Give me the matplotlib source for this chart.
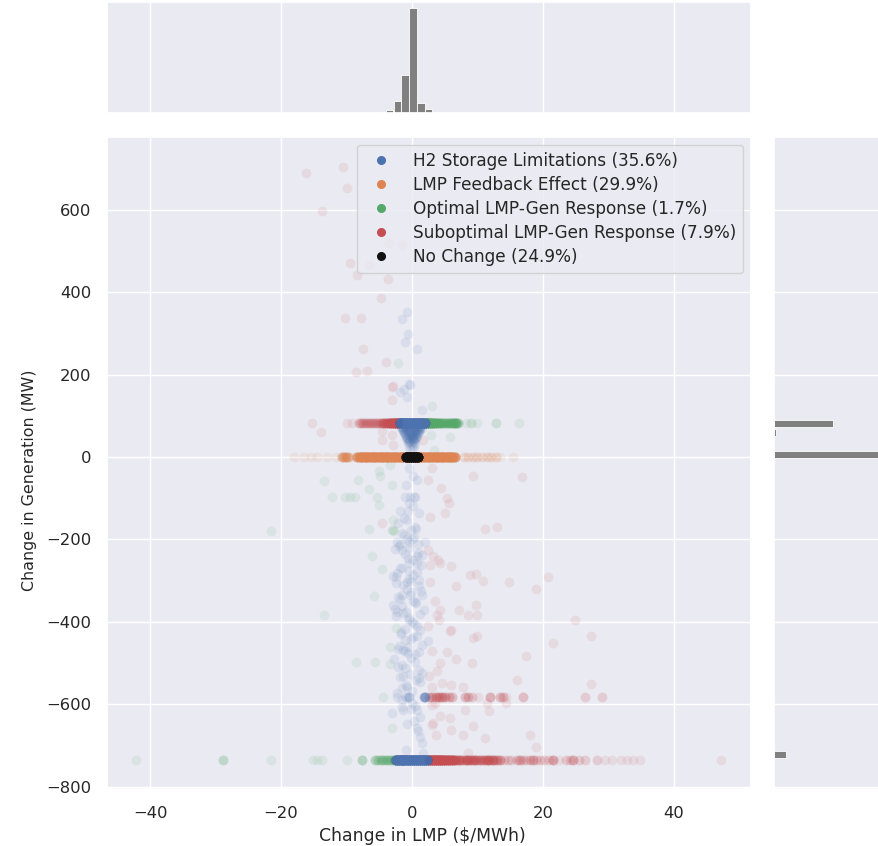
import numpy as np
import matplotlib
matplotlib.use("Agg")
import matplotlib.pyplot as plt
import seaborn as sns

sns.set_theme(style="darkgrid")
plt.rcParams["font.family"] = ["DejaVu Sans"]

labels = ["H2 Storage Limitations (35.6%)", "LMP Feedback Effect (29.9%)",
          "Optimal LMP-Gen Response (1.7%)", "Suboptimal LMP-Gen Response (7.9%)",
          "No Change (24.9%)"]

# scattered points
blue_x = [-0.8,-1.6,-0.6,-1.1,0.8,-0.3,-1.2,-0.4,-1.8,-0.8,1.5,
          -0.5,0.2,0.7,-0.9,-1.0,-0.3,0.3,0.5,-0.5,0.1,-0.6,1.0,-0.8,0.6,-0.2,
          -2.3,-0.5,2.0,-1.6,-0.5,1.5,-0.5,0.7,-2.3,0.7,-0.8,-2.5,-1.6,-0.3,1.5,-2.9,-2.3,-1.3,1.3,-0.05,1.2,2.5,1.0,-1.6,-2.1,1.5,-1.6,-1.3,0.7,0.7,1.2,1.5,-0.9,1.7,
          -1.2,0.3,-2.0,0.9,-0.6,1.4,-1.5,0.2,-2.4,-0.1,1.1,-0.7,-1.9,0.5,-2.6,1.8,-0.4,0.8,-1.7,0.1,-1.0,1.6,-2.2,0.4,-0.2,1.0,-1.4,0.6,-0.9,0.0,-3.0,1.3,
          0.3,-0.8,0.9,-1.5,0.5,-0.2,1.1,-0.6,-1.1,0.2,1.4,-0.4,0.7,-1.8,0.0,
          -1.8,-1.2,-2.2,0.4,-1.5,-0.7,0.9,-2.6,-1.0,0.1,-1.9,-0.4,-2.9,1.1,-1.3,-0.2,-2.1,0.6,-1.6,-0.9,-2.4,-0.5,0.3,-1.1,-1.7,0.8,-0.1,-2.0,-1.4,-0.6,-2.7,0.5,-1.0,-0.3,-1.9,1.3,-0.8,-2.3,0.0,-1.5,
          -1.7,-0.9,0.2,1.2,-1.4,-0.6,0.8,1.6,-1.5,-0.8,0.4,1.3,-1.3,-0.5,0.6,1.1,-1.2,-0.4,0.3,1.0,-1.1,-0.3,0.5,0.9,-1.0,-0.2,0.4,0.8,-0.9,-0.2,0.3,0.7,-0.8,-0.1,0.2,0.6,-0.7,0.0,0.5,-0.6,0.1,0.4,-0.5,0.2,-0.4,0.3,
          -1.6,-1.1,-0.6,-0.1,0.4,0.9,1.4,-1.5,-1.0,-0.5,0.0,0.5,1.0,1.3,-1.4,-0.9,-0.4,0.1,0.6,1.1,-1.3,-0.8,-0.3,0.2,0.7,1.0,-1.2,-0.7,-0.2,0.3,0.8,-1.0,-0.5,0.0,0.5,-0.9,-0.4,0.1,0.6,-0.8,-0.3,0.2,-0.6,-0.1,0.4,-0.5,0.0,0.3,-0.3,0.1]
blue_y = [351,335,298,279,262,175,165,177,158,146,115,
          -27,-47,-56,-68,-96,-97,-97,-97,-112,-118,-130,-136,-153,-175,-178,
          -205,-205,-205,-225,-221,-237,-256,-256,-282,-278,-302,-306,-334,-334,-334,-359,-375,-379,-380,-401,-419,-447,-472,-504,-508,-523,-561,-613,-613,-657,-678,-694,-710,-718,
          -190,-195,-215,-232,-245,-262,-270,-285,-292,-300,-312,-320,-345,-352,-368,-372,-390,-410,-428,-436,-444,-455,-465,-478,-488,-516,-530,-540,-552,-568,-620,-630,
          -640,-648,-665,-590,-603,-610,-535,-460,-470,-350,-325,-295,-240,-212,-200,
          -130,-148,-160,-170,-185,-198,-210,-222,-235,-250,-268,-276,-288,-298,-310,-328,-340,-355,-362,-376,-385,-395,-405,-418,-425,-433,-442,-458,-468,-476,-490,-497,-512,-525,-534,-545,-558,-572,-596,-606,
          72,72,72,72,70,70,70,70,67,67,67,67,64,64,64,64,61,61,61,61,58,58,58,58,55,55,55,55,52,52,52,52,49,49,49,49,46,46,46,43,43,43,40,40,37,37,
          76,76,76,76,76,76,76,74,74,74,74,74,74,74,69,69,69,69,69,69,65,65,65,65,65,65,60,60,60,60,60,54,54,54,54,47,47,47,47,41,41,41,34,34,34,27,27,27,20,20]

green_x = [-21.5,-13.5,-8.5,-6.1,-5.8,-5.6,-4.6,-4.5,-3.4,-3.3,-3.1,-2.5,3.1,2.9,5.8,3.3,-3.3,-5,-4.9,-8.2,-13.4,-6.5,-3.1,-12.2,-10.2,-9.5,-8.7,-5.4,-5,-2.9,-6.6,-2.9,-3.1,-2.2,-2.7]
green_y = [-180,-383,-498,-241,-337,-498,-272,-582,-502,-460,-657,-415,123,53,49,17,-19,-35,-47,-56,-58,-77,-68,-96,-97,-97,-97,-96,-116,-153,-175,-178,-176,228,-180]

red_x = [-16.2,-10.5,-9.9,-13.7,-9.5,-8.4,-3.7,-4.7,-10.2,-7.8,-7.5,-4,-8.5,-6.9,-2.9,-3.5,-1.5,-6.5,
         -3,-3.1,-13.9,-4.6,-4.6,-3.1,-2.9,1.7,3,9.3,16.8,2.5,4.5,5.3,5.6,5,2.8,-4.6,11.2,13,
         4,4.3,6,2.75,6.7,8.9,9.8,10.9,14.8,19,9.8,7.2,4.3,3.8,8.6,10,5.8,6,9.3,10,21.5,5.3,6.7,4.3,9.1,17.4,16,27.3,4.6,3,6,7.8,20.8,24.9,27.3,
         3,3.5,11.5,14.4,8.1,11.8,5.8,4.3,3,3.2,6,7.8,3.6,9.3,11.2,18,19,8.6,
         2.5,3.2,2.8,3.5,4.1,2.4,3.0,3.8,2.6]
red_y = [688,703,652,596,470,441,431,385,337,337,262,230,206,209,172,520,515,465,
         170,138,60,62,41,53,29,41,-27,-47,-48,-56,-76,-100,-112,-136,-145,-161,-174,-170,
         -250,-258,-264,-302,-312,-287,-284,-300,-304,-321,-359,-371,-371,-383,-383,-383,-423,-419,-439,-434,-451,-472,-489,-500,-500,-482,-540,-550,-548,-557,-554,-557,-290,-395,-434,
         -601,-597,-597,-597,-613,-617,-633,-629,-649,-645,-662,-675,-674,-653,-682,-674,-704,-718,
         -225,-240,-262,-350,-395,-410,-470,-520,-530]

# horizontal bands: value, number of coincident points
band_y = [82, 0, -735, -582]

blue_band_x_82 = [-1.9,-1.6,-1.3,-1.0,-0.7,-0.4,-0.1,0.2,0.5,0.8,1.1,1.4,1.7,2.0]
blue_band_n_82 = [25,25,25,25,25,25,25,25,25,25,25,25,25,25]
red_band_x_82 = [-15.3,-10,-9.2,-8.1,-7.8,-7.5,-7.2,-6.9,-6.6,-6.3,-6.0,-5.7,-5.4,-5.1,-4.8,-4.5,-4.2,-3.9,-3.6,-3.3,-3.0,-2.7,-2.4,-2.1]
red_band_n_82 = [1,1,1,3,3,3,3,3,3,3,3,3,3,3,4,5,5,6,9,12,14,18,20,25]
green_band_x_82 = [2.3,2.6,2.9,3.2,3.5,3.8,4.1,4.4,4.7,5.0,5.3,5.6,5.9,6.2,6.5,6.8,7.1,8.2,9.0,9.9,12.9,16.3]
green_band_n_82 = [22,20,16,14,10,9,8,7,6,5,6,6,7,7,7,7,5,1,2,1,2,1]
orange_band_x = [-18,-16.5,-15.5,-14.5,-13,-11.6,-10.7,-10.4,-10.1,-9.8,-9.2,
                 -8.4,-8,-7.6,-7.2,-6.8,-6.4,-6,-5.6,-5.2,-4.8,-4.4,-4,-3.6,-3.2,-2.8,-2.4,-2,-1.6,-1.2,-0.8,-0.4,0,0.4,0.8,1.2,1.6,2,2.4,2.8,3.2,3.6,4,4.4,4.8,5.2,5.6,6,6.3,6.6,
                 7.9,8.6,9.3,10,10.7,11.4,12.1,12.8,13.4,15.5]
orange_band_n = [1,1,1,1,1,1,6,6,6,6,1,
                 12,16,20,20,20,20,20,20,20,20,20,20,20,20,20,20,20,20,20,20,20,20,20,20,20,20,20,20,20,20,20,20,20,20,20,20,16,12,12,
                 2,2,2,2,2,2,2,2,1,1]
black_x = [-0.9,-0.6,-0.3,0.0,0.3,0.6,0.9]
black_n = [30,30,30,30,30,30,30]

blue_band_x_735 = [-2.5,-2.2,-1.9,-1.6,-1.3,-1.0,-0.7,-0.4,-0.1,0.2,0.5,0.8,1.1,1.4,1.7,2.0,2.3]
blue_band_n_735 = [25,25,25,25,25,25,25,25,25,25,25,25,25,25,25,25,25]
green_band_x_735 = [-42.1,-28.8,-21.6,-15.2,-14.5,-13.8,-10,-7.7,-5.6,-5.2,-4.8,-4.4,-4,-3.6,-3.2,-2.8]
green_band_n_735 = [1,3,1,1,1,1,1,4,4,4,4,4,4,4,5,8]
red_band_x_735 = [2.6,2.9,3.2,3.5,3.8,4.1,4.4,4.7,5.0,5.3,5.6,5.9,6.2,6.6,7,7.4,7.8,8.2,8.6,9,9.4,9.8,10.2,10.6,11,11.4,11.8,12.2,12.6,13,13.4,14,14.6,15.2,16,16.5,17,17.4,18,18.5,19,19.5,20.2,21,21.5,22.5,23.5,24.2,24.6,25.5,26.4,28.2,29.5,30.5,32,32.8,33.8,34.9,47.2]
red_band_n_735 = [20,20,20,20,20,20,20,16,16,14,14,12,12,10,7,7,6,7,8,8,7,6,5,5,7,7,7,6,6,5,5,2,2,2,3,4,2,2,3,4,2,2,2,2,5,1,2,2,4,2,2,2,1,1,1,1,1,1,1]
blue_band_x_580 = [-2.3,-0.9,-0.5,1.8,2.0]
blue_band_n_580 = [1,2,3,4,5]
red_band_x_580 = [2.6,3.1,3.6,4.1,4.6,5.1,5.6,6.1,8.1,8.6,9.1,10.1,11.9,13.4,13.9,14.4,16.9,26.5,29]
red_band_n_580 = [3,4,5,5,5,4,3,3,3,3,2,1,4,3,3,1,3,2,2]

# marginal histograms
lmp_bins = [-5.8,-4.6,-3.4,-2.2,-1.07,0.15,1.37,2.5,3.7,4.9,6.0]
lmp_heights = [0.2,0.7,3.3,12,38,105,9.5,3.5,0.8,0.4,0.2]
gen_bins = [81,60,5,-722]
gen_heights = [59,2,105,12]

ax_color = "#eaeaf2"
colors = ["#4C72B0", "#DD8452", "#55A868", "#C44E52", "#111111"]
W, H = 879, 846


def rect(l, t, r, b):
    return [l / W, 1 - b / H, (r - l) / W, (b - t) / H]


def bx(x, n):
    return np.repeat(x, n)


fig = plt.figure(figsize=(8.79, 8.46), dpi=100)
ax = fig.add_axes(rect(107, 137, 751, 789))
top = fig.add_axes(rect(107, 2, 751, 113), sharex=ax)
right = fig.add_axes(rect(774, 137, 879, 789), sharey=ax)


def scat(x, y, c, alpha=0.1, z=2):
    ax.scatter(x, y, s=50, color=c, alpha=alpha, linewidths=0, zorder=z)


rx = np.concatenate([red_x, bx(red_band_x_82, red_band_n_82), bx(red_band_x_735, red_band_n_735), bx(red_band_x_580, red_band_n_580)])
ry = np.concatenate([red_y, np.full(sum(red_band_n_82), band_y[0]), np.full(sum(red_band_n_735), band_y[2]), np.full(sum(red_band_n_580), band_y[3])])
scat(rx, ry, colors[3], z=2.1)
gx = np.concatenate([green_x, bx(green_band_x_82, green_band_n_82), bx(green_band_x_735, green_band_n_735)])
gy = np.concatenate([green_y, np.full(sum(green_band_n_82), band_y[0]), np.full(sum(green_band_n_735), band_y[2])])
scat(gx, gy, colors[2], z=2.2)
bxs = np.concatenate([blue_x, bx(blue_band_x_82, blue_band_n_82), bx(blue_band_x_735, blue_band_n_735), bx(blue_band_x_580, blue_band_n_580)])
bys = np.concatenate([blue_y, np.full(sum(blue_band_n_82), band_y[0]), np.full(sum(blue_band_n_735), band_y[2]), np.full(sum(blue_band_n_580), band_y[3])])
scat(bxs, bys, colors[0], z=2.3)
ox = bx(orange_band_x, orange_band_n)
scat(ox, np.full(len(ox), band_y[1]), colors[1], z=2.4)
kx = bx(black_x, black_n)
scat(kx, np.full(len(kx), band_y[1]), colors[4], z=2.5)

ax.set_xlim(-46.6, 51.8)
ax.set_ylim(-805, 776)
ax.set_xticks([-40, -20, 0, 20, 40])
ax.set_yticks([-800, -600, -400, -200, 0, 200, 400, 600])
ax.set_xticklabels(["\u221240", "\u221220", "0", "20", "40"])
ax.tick_params(axis="y", labelsize=11.8, pad=5)
ax.tick_params(axis="x", labelsize=11.8, pad=6)
ax.set_xlabel("Change in LMP ($/MWh)", fontsize=12.4)
ax.set_ylabel("Change in Generation (MW)", fontsize=11.4)
ax.xaxis.set_label_coords(0.489, -0.058)
ax.yaxis.set_label_coords(-0.109, 0.474)

handles = [plt.Line2D([], [], ls="", marker="o", ms=5.5, color=c) for c in colors]
ax.legend(handles, labels, loc="upper left", bbox_to_anchor=((357 - 107) / 644, 1 - (145 - 137) / 652),
          borderaxespad=0, fontsize=12.2, frameon=True, framealpha=0.8,
          facecolor=ax_color, edgecolor="#cccccc", labelspacing=0.36, handletextpad=0.9)
ax.get_legend().set_zorder(5)

top.bar(lmp_bins, lmp_heights, width=1.15, color="#808080", edgecolor="white", linewidth=0.6)
top.set_ylim(0, 110.5)
top.yaxis.grid(False)
top.tick_params(labelbottom=False, labelleft=False, length=0)
top.set_yticks([])

right.barh(gen_bins, gen_heights, height=17, color="#808080", edgecolor="white", linewidth=0.6)
right.set_xlim(0, 105)
right.xaxis.grid(False)
right.set_xticks([])
right.tick_params(labelbottom=False, labelleft=False, length=0)

fig.savefig("out.png", dpi=100)
